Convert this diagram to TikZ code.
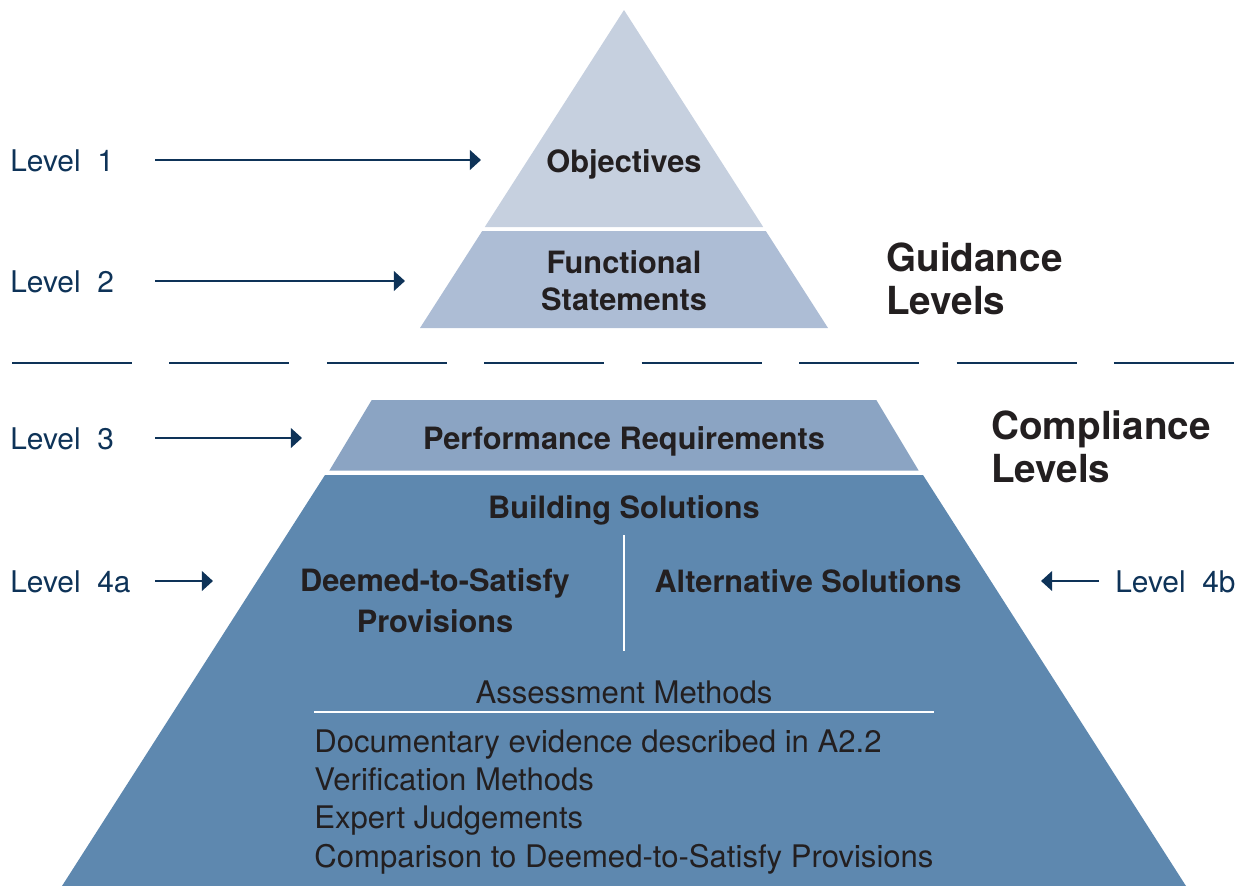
\documentclass[tikz,border=0pt]{standalone}
\usepackage{fontspec}
\setmainfont{TeX Gyre Heros}
\usetikzlibrary{arrows.meta}
\definecolor{navy}{HTML}{0E3358}
\definecolor{ink}{HTML}{231F20}
\definecolor{tierA}{HTML}{C6D0DF}
\definecolor{tierB}{HTML}{ADBDD5}
\definecolor{tierC}{HTML}{8BA4C3}
\definecolor{tierD}{HTML}{5E88AF}

\begin{document}
\begin{tikzpicture}[x=0.02cm, y=-0.02cm,
    lvl/.style={anchor=base west, inner sep=0pt, text=navy, font=\fontsize{17}{20}\selectfont},
    tier/.style={anchor=base, inner sep=0pt, text=ink, align=center, font=\bfseries\fontsize{17.5}{21}\selectfont},
    grp/.style={anchor=base west, inner sep=0pt, align=left, text=ink, font=\bfseries\fontsize{22}{24}\selectfont},
    meth/.style={anchor=base west, inner sep=0pt, text=ink, font=\fontsize{17.7}{21}\selectfont},
    arr/.style={navy, line width=1.6pt, -{Triangle[length=6.3pt,width=11pt]}}]
  \useasboundingbox (0,0) rectangle (1249,886);

  \fill[tierA] (624,10) -- (763.2,227) -- (484.8,227) -- cycle;
  \fill[tierB] (482.2,231) -- (765.8,231) -- (828,328) -- (420,328) -- cycle;
  \fill[tierC] (371.7,400) -- (876.3,400) -- (918.6,470.5) -- (329.4,470.5) -- cycle;
  \fill[tierD] (325,475) -- (923,475) -- (1186,886) -- (62,886) -- cycle;
  \draw[navy, line width=1.1pt, dash pattern=on 68.3pt off 21.3pt] (12,363) -- (1235,363);
  \draw[white, line width=1.1pt] (624,535) -- (624,651);
  \draw[white, line width=0.9pt] (314,712) -- (934,712);

  \node[tier] (obj) at (624,172) {Objectives};
  \node[tier] (func) at (624,310) {Functional\\Statements};
  \node[tier] (perf) at (624,449) {Performance Requirements};
  \node[tier] (build) at (624,518) {Building Solutions};
  \node[tier, font=\bfseries\fontsize{17.5}{22.8}\selectfont] (dts) at (435,632) {Deemed-to-Satisfy\\Provisions};
  \node[tier] (alt) at (808,592) {Alternative Solutions};

  \node[meth, anchor=base] (am) at (624,703) {Assessment Methods};
  \node[meth] (m1) at (314,752) {Documentary evidence described in A2.2};
  \node[meth] (m2) at (314,790) {Verification Methods};
  \node[meth] (m3) at (314,828) {Expert Judgements};
  \node[meth] (m4) at (314,867) {Comparison to Deemed-to-Satisfy Provisions};

  \node[grp] (guide) at (886,314) {Guidance\\Levels};
  \node[grp] (comp) at (991,482) {Compliance\\Levels};

  \node[lvl] (lv1) at (10,171) {Level~~1};
  \node[lvl] (lv2) at (10,292) {Level~~2};
  \node[lvl] (lv3) at (10,449) {Level~~3};
  \node[lvl] (lv4a) at (10,592) {Level~~4a};
  \node[lvl] (lv4b) at (1115,592) {Level~~4b};

  \coordinate (t1) at (155,160); \coordinate (h1) at (481,160);
  \coordinate (t2) at (155,281); \coordinate (h2) at (405,281);
  \coordinate (t3) at (155,438); \coordinate (h3) at (302,438);
  \coordinate (t4a) at (155,581); \coordinate (h4a) at (213,581);
  \coordinate (t4b) at (1099,581); \coordinate (h4b) at (1041,581);
  \draw[arr] (t1) -- (h1);
  \draw[arr] (t2) -- (h2);
  \draw[arr] (t3) -- (h3);
  \draw[arr] (t4a) -- (h4a);
  \draw[arr] (t4b) -- (h4b);
\end{tikzpicture}
\end{document}
